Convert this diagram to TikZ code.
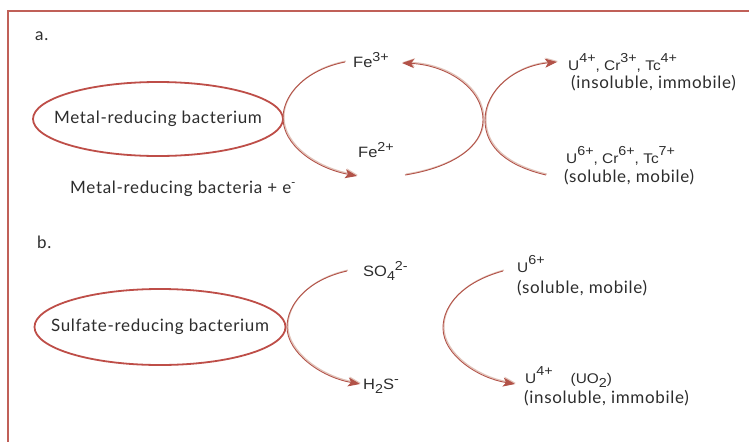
\documentclass[tikz,border=0pt]{standalone}
\usepackage{fontspec}
\setmainfont[LetterSpace=4]{Lato}
\newfontfamily\chemfont[FakeStretch=1.1]{Liberation Sans}
\usetikzlibrary{arrows.meta,shapes.geometric}
\definecolor{framered}{RGB}{192,96,88}
\definecolor{ellred}{RGB}{190,78,72}
\definecolor{arcred}{RGB}{178,82,72}
\definecolor{arcshade}{RGB}{225,195,185}
\definecolor{txt}{RGB}{45,45,45}
\newcommand\supx[2][8pt]{\raisebox{#1}{\fontsize{13}{13}\selectfont #2}}
\newcommand\subx[2][-4pt]{\raisebox{#1}{\fontsize{13}{13}\selectfont #2}}
\begin{document}
\begin{tikzpicture}[x=1pt,y=-1pt,
  lbl/.style={inner sep=0pt,anchor=base west,text=txt,font=\fontsize{17}{20}\selectfont},
  chem/.style={inner sep=0pt,anchor=base west,text=txt,font=\chemfont\fontsize{14}{16}\selectfont},
  bigchem/.style={chem,font=\chemfont\fontsize{15}{17}\selectfont},
  bact/.style={draw=ellred,line width=1.8pt,ellipse,inner sep=0pt,outer sep=0pt},
  bactxt/.style={inner sep=0pt,text=txt,font=\fontsize{17}{20}\selectfont},
  arc/.style={draw=arcred,line width=0.9pt,preaction={draw=arcshade,line width=1.2pt,transform canvas={shift={(0.9pt,0.9pt)}}}},
  tip/.style={-{Stealth[length=12pt,width=9pt,inset=3pt]}}
]
\useasboundingbox (0,0) rectangle (749,442);
\fill[white] (0,0) rectangle (749,442);
% frame
\draw[framered,line width=2pt] (749,11) -- (8,11) -- (8,442);

% ---------------- panel a ----------------
\node[lbl] (la) at (35,40) {a.};
\node[bact,minimum width=250pt,minimum height=74pt] (mrb) at (158,119) {};
\node[bactxt] (mrbt) at (mrb.center) {Metal-reducing bacterium};
\node[lbl] (mre) at (70,193) {Metal-reducing bacteria + e\textsuperscript{-}};

\node[bigchem] (fe3) at (353,67) {Fe\supx[6pt]{3+}};
\node[bigchem] (fe2) at (358,157) {Fe\supx[6pt]{2+}};

\node[chem] (u4) at (568,70) {U\supx{4+}, Cr\supx{3+}, Tc\supx{4+}};
\node[lbl] (u4t) at (571,88) {(insoluble, immobile)};
\node[chem] (u6) at (566,163) {U\supx{6+}, Cr\supx{6+}, Tc\supx{7+}};
\node[lbl] (u6t) at (564,182) {(soluble, mobile)};

\coordinate (a1s) at (345,62);
\coordinate (a1m) at (283,118);
\coordinate (a1e) at (357,176);
\draw[arc,tip] (a1s) .. controls (305,70) and (283,95) .. (a1m) .. controls (283,145) and (315,168) .. (a1e);

\coordinate (a2s) at (405,175);
\coordinate (a2m) at (483,120);
\coordinate (a2e) at (402,63);
\draw[arc,tip] (a2s) .. controls (450,168) and (483,148) .. (a2m) .. controls (483,88) and (447,65) .. (a2e);

\coordinate (a3s) at (546,175);
\coordinate (a3m) at (485,120);
\coordinate (a3e) at (557,62);
\draw[arc,tip] (a3s) .. controls (508,166) and (485,148) .. (a3m) .. controls (485,90) and (515,66) .. (a3e);

% ---------------- panel b ----------------
\node[lbl] (lb) at (37,248) {b.};
\node[bact,minimum width=251pt,minimum height=76pt] (srb) at (160,327) {};
\node[bactxt] (srbt) at (srb.center) {Sulfate-reducing bacterium};

\node[bigchem] (so4) at (363,276) {SO\subx{4}\supx[6pt]{2-}};
\node[bigchem] (h2s) at (363,389) {H\subx{2}S\supx[6pt]{-}};

\node[chem] (bu6) at (517,272) {U\supx{6+}};
\node[lbl] (bu6t) at (517,293) {(soluble, mobile)};
\node[chem] (bu4) at (525,383) {U\supx{4+}\hspace{18pt}(UO\subx{2})};
\node[lbl] (bu4t) at (524,403) {(insoluble, immobile)};

\coordinate (b1s) at (347,271);
\coordinate (b1m) at (287,327);
\coordinate (b1e) at (360,384);
\draw[arc,tip] (b1s) .. controls (307,280) and (287,305) .. (b1m) .. controls (287,352) and (320,377) .. (b1e);

\coordinate (b2s) at (503,271);
\coordinate (b2m) at (443,328);
\coordinate (b2e) at (515,384);
\draw[arc,tip] (b2s) .. controls (463,282) and (443,305) .. (b2m) .. controls (443,355) and (478,378) .. (b2e);
\end{tikzpicture}
\end{document}
